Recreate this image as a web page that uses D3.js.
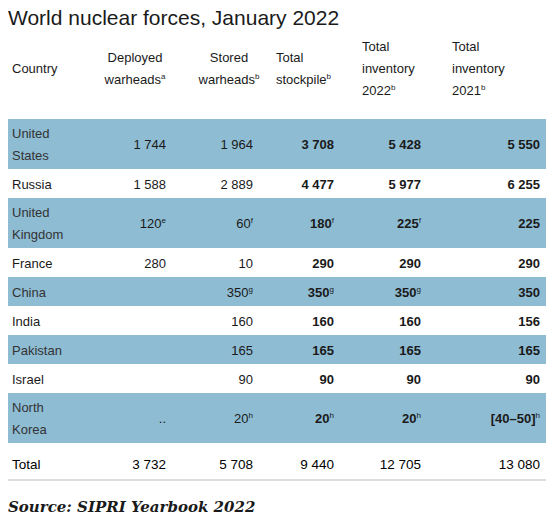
<!DOCTYPE html>
<html><head><meta charset="utf-8">
<script src="https://cdn.jsdelivr.net/npm/d3@7"></script>
<style>body{margin:0;background:#fff}</style>
</head><body>
<script>
// data
var countries = [["United", "States"], ["Russia"], ["United", "Kingdom"], ["France"], ["China"], ["India"], ["Pakistan"], ["Israel"], ["North", "Korea"]];
var deployed = ["1 744", "1 588", "120", "280", "", "", "", "", ".."];
var deployedNote = ["", "", "e", "", "", "", "", "", ""];
var stored = ["1 964", "2 889", "60", "10", "350", "160", "165", "90", "20"];
var storedNote = ["", "", "f", "", "g", "", "", "", "h"];
var stockpile = ["3 708", "4 477", "180", "290", "350", "160", "165", "90", "20"];
var stockpileNote = ["", "", "f", "", "g", "", "", "", "h"];
var inv2022 = ["5 428", "5 977", "225", "290", "350", "160", "165", "90", "20"];
var inv2022Note = ["", "", "f", "", "g", "", "", "", "h"];
var inv2021 = ["5 550", "6 255", "225", "290", "350", "156", "165", "90", "[40\u201350]"];
var inv2021Note = ["", "", "", "", "", "", "", "", "h"];
var totals = ["3 732", "5 708", "9 440", "12 705", "13 080"];
var headers = [
  {lines: ["Deployed", "warheads"], note: "a", anchor: "middle"},
  {lines: ["Stored", "warheads"], note: "b", anchor: "middle"},
  {lines: ["Total", "stockpile"], note: "b", anchor: "start"},
  {lines: ["Total", "inventory", "2022"], note: "b", anchor: "start"},
  {lines: ["Total", "inventory", "2021"], note: "b", anchor: "start"}
];

var W = 554, H = 529;
var font = "'Liberation Sans', Arial, sans-serif";
var band = "#8ebcd3";
var colRight = [166, 253, 334, 421, 540];
var headX = [135, 229, 276, 362, 452];
var boldCol = [false, false, true, true, true];

var svg = d3.select("body").append("svg").attr("width", W).attr("height", H)
  .style("font-family", font).style("fill", "#1a1a1a");

svg.append("text").attr("x", 8).attr("y", 25).attr("font-size", 21).text("World nuclear forces, January 2022");

// header
svg.append("text").attr("x", 12).attr("y", 73).attr("font-size", 13).text("Country");
headers.forEach(function (h, i) {
  var y0 = h.lines.length === 3 ? 51 : 62;
  h.lines.forEach(function (l, j) {
    var t = svg.append("text").attr("x", headX[i]).attr("y", y0 + j * 22)
      .attr("font-size", 13).attr("text-anchor", h.anchor).text(l);
    if (j === h.lines.length - 1)
      t.append("tspan").attr("dy", -5).attr("font-size", 8).text(h.note);
  });
});

// row layout via cumulative heights
var heights = countries.map(function (c) { return c.length === 2 ? 50 : 29; });
var tops = [0];
heights.forEach(function (h, i) { tops.push(tops[i] + h); });
var y = d3.scaleLinear().domain([0, 1]).range([119, 120]);

var cols = [[deployed, deployedNote], [stored, storedNote], [stockpile, stockpileNote], [inv2022, inv2022Note], [inv2021, inv2021Note]];

countries.forEach(function (c, i) {
  var top = y(tops[i]), h = heights[i];
  if (i % 2 === 0)
    svg.append("rect").attr("x", 8).attr("y", top).attr("width", 538).attr("height", h).attr("fill", band);
  var mid = top + h / 2;
  c.forEach(function (l, j) {
    svg.append("text").attr("x", 12).attr("y", c.length === 2 ? mid - 6 + j * 22 : mid + 5)
      .attr("font-size", 13).style("fill", i % 2 === 0 ? "#333" : "#1a1a1a").text(l);
  });
  cols.forEach(function (col, k) {
    var v = col[0][i], n = col[1][i];
    if (!v) return;
    var t = svg.append("text").attr("x", colRight[k]).attr("y", mid + 5).attr("text-anchor", "end")
      .attr("font-size", 13).attr("font-weight", boldCol[k] ? "bold" : "normal").text(v);
    if (n) t.append("tspan").attr("dy", -5).attr("font-size", 8).attr("font-weight", "normal").text(n);
  });
});

var totTop = y(tops[tops.length - 1]);
svg.append("text").attr("x", 12).attr("y", totTop + 26).attr("font-size", 13.5).attr("fill", "#000").text("Total");
totals.forEach(function (v, k) {
  svg.append("text").attr("x", colRight[k]).attr("y", totTop + 26).attr("text-anchor", "end")
    .attr("font-size", 13.5).attr("fill", "#000").text(v);
});
svg.append("line").attr("x1", 8).attr("x2", 546).attr("y1", totTop + 37).attr("y2", totTop + 37)
  .attr("stroke", "#bbb").attr("stroke-width", 1);

svg.append("text").attr("x", 8).attr("y", 512).attr("font-family", "'DejaVu Serif', Georgia, serif")
  .attr("font-size", 15).attr("font-weight", "bold").attr("font-style", "italic").text("Source: SIPRI Yearbook 2022");
</script>
</body></html>
